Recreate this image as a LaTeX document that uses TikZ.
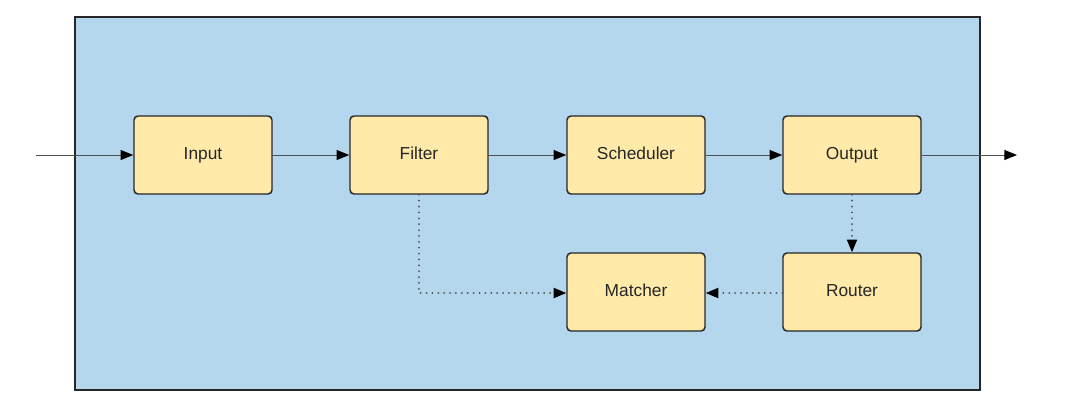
\documentclass[tikz,border=0pt]{standalone}
\usepackage{fontspec}
\setmainfont{Liberation Sans}
\usetikzlibrary{arrows.meta}
\definecolor{bgblue}{RGB}{180,215,238}
\definecolor{boxyellow}{RGB}{255,234,170}
\definecolor{linegray}{RGB}{80,80,80}
\begin{document}
\begin{tikzpicture}[x=0.75pt,y=-0.75pt,
  block/.style={draw=black!85, line width=1.1pt, fill=boxyellow, rounded corners=3pt,
    minimum width=138*0.75pt, minimum height=78*0.75pt, inner sep=0pt,
    text height=9.5pt, text depth=2.5pt,
    font=\fontsize{13}{15}\selectfont, text=black!85},
  tip/.style={-{Triangle[length=9.5pt,width=7.5pt,color=black]}},
  flow/.style={draw=linegray, line width=0.7pt, tip},
  dflow/.style={draw=linegray, line width=1.5pt, dash pattern=on 0.01pt off 4.4pt,
    line cap=round, tip}]
\useasboundingbox (0,0) rectangle (1080,401);
\draw[fill=bgblue, draw=black!85, line width=1pt] (75,17) rectangle (980,390);
\node[block] (input) at (203,155) {Input};
\node[block] (filter) at (419,155) {Filter};
\node[block] (sched) at (636,155) {Scheduler};
\node[block] (output) at (852,155) {Output};
\node[block] (matcher) at (636,292) {Matcher};
\node[block] (router) at (852,292) {Router};
\coordinate (src) at (36,155);
\coordinate (sink) at (1017,155);
\coordinate (bend) at (419,293);
\draw[flow] (src) -- (input);
\draw[flow] (input) -- (filter);
\draw[flow] (filter) -- (sched);
\draw[flow] (sched) -- (output);
\draw[flow] (output) -- (sink);
\draw[dflow] (filter.south) -- (bend) -- (matcher.west |- bend);
\draw[dflow] (output) -- (router);
\draw[dflow] (router.west |- bend) -- (matcher.east |- bend);
\end{tikzpicture}
\end{document}
